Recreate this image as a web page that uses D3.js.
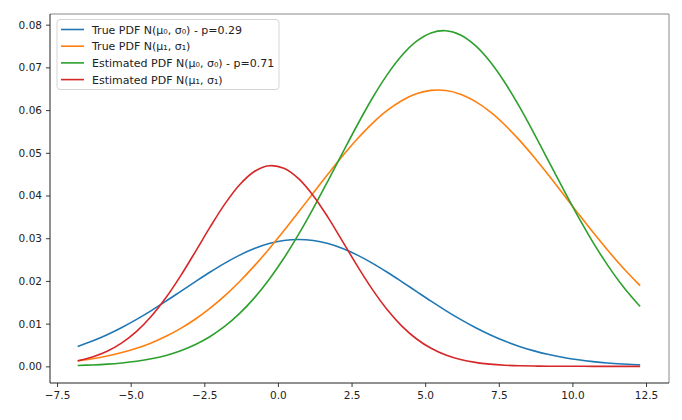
<!DOCTYPE html>
<html>
<head>
<meta charset="utf-8">
<script src="https://cdn.jsdelivr.net/npm/d3@7"></script>
<style>
  body { margin: 0; background: white; }
  text { font-family: "DejaVu Sans", sans-serif; }
</style>
</head>
<body>
<script>
// values
let xs = [-6.8, -6.3, -5.8, -5.3, -4.8, -4.3, -3.8, -3.3, -2.8, -2.3, -1.8, -1.3, -0.8, -0.3,
          0.2, 0.7, 1.2, 1.7, 2.2, 2.7, 3.2, 3.7, 4.2, 4.7, 5.2, 5.7, 6.2, 6.7, 7.2, 7.7,
          8.2, 8.7, 9.2, 9.7, 10.2, 10.7, 11.2, 11.7, 12.2, 12.3];

let truePdf0 = [0.00467, 0.00593, 0.00741, 0.00910, 0.01099, 0.01306, 0.01526, 0.01755, 0.01985, 0.02209,
                0.02418, 0.02604, 0.02758, 0.02874, 0.02946, 0.02970, 0.02946, 0.02874, 0.02758, 0.02604,
                0.02418, 0.02209, 0.01985, 0.01755, 0.01526, 0.01306, 0.01099, 0.00910, 0.00741, 0.00593,
                0.00467, 0.00362, 0.00276, 0.00207, 0.00153, 0.00111, 0.00079, 0.00056, 0.00038, 0.00036];

let truePdf1 = [0.00131, 0.00179, 0.00242, 0.00322, 0.00423, 0.00549, 0.00703, 0.00888, 0.01108, 0.01364,
                0.01657, 0.01988, 0.02353, 0.02750, 0.03172, 0.03612, 0.04059, 0.04502, 0.04930, 0.05328,
                0.05683, 0.05985, 0.06220, 0.06381, 0.06461, 0.06458, 0.06371, 0.06203, 0.05963, 0.05657,
                0.05297, 0.04897, 0.04468, 0.04023, 0.03576, 0.03137, 0.02717, 0.02322, 0.01960, 0.01891];

let estPdf0 = [0.00021, 0.00033, 0.00051, 0.00079, 0.00119, 0.00176, 0.00256, 0.00365, 0.00510, 0.00699,
               0.00939, 0.01239, 0.01603, 0.02033, 0.02530, 0.03089, 0.03699, 0.04345, 0.05005, 0.05657,
               0.06271, 0.06818, 0.07272, 0.07608, 0.07807, 0.07858, 0.07759, 0.07514, 0.07138, 0.06652,
               0.06080, 0.05451, 0.04794, 0.04136, 0.03499, 0.02904, 0.02365, 0.01888, 0.01479, 0.01405];

let estPdf1 = [0.00128, 0.00217, 0.00352, 0.00548, 0.00818, 0.01172, 0.01610, 0.02124, 0.02688, 0.03264,
               0.03804, 0.04253, 0.04562, 0.04696, 0.04638, 0.04396, 0.03997, 0.03488, 0.02920, 0.02346,
               0.01808, 0.01337, 0.00949, 0.00646, 0.00422, 0.00265, 0.00159, 0.00092, 0.00051, 0.00027,
               0.00014, 0.00007, 0.00003, 0.00001, 0.00001, 0.0, 0.0, 0.0, 0.0, 0.0];

let seriesNames = ["True PDF N(μ₀, σ₀) - p=0.29", "True PDF N(μ₁, σ₁)",
                   "Estimated PDF N(μ₀, σ₀) - p=0.71", "Estimated PDF N(μ₁, σ₁)"];
let seriesColors = ["#1f77b4", "#ff7f0e", "#2ca02c", "#d62728"];
let xTicks = [-7.5, -5.0, -2.5, 0.0, 2.5, 5.0, 7.5, 10.0, 12.5];
let yTicks = [0.00, 0.01, 0.02, 0.03, 0.04, 0.05, 0.06, 0.07, 0.08];

let W = 682, H = 420;
let pLeft = 50, pRight = 669, pTop = 14, pBottom = 383;

let svg = d3.select('body')
    .append('svg')
        .attr("width", W)
        .attr("height", H);

let x = d3.scaleLinear().domain([-7.74, 13.28]).range([pLeft, pRight]);
let y = d3.scaleLinear().domain([-0.0039, 0.0825]).range([pBottom, pTop]);

function fmtX(v) { return d3.format(".1f")(v).replace("-", "\u2212"); }

// axes
let xAxis = svg.append('g')
    .attr("transform", "translate(0," + pBottom + ")")
    .call(d3.axisBottom(x).tickValues(xTicks).tickFormat(fmtX).tickSize(4).tickPadding(5));
let yAxis = svg.append('g')
    .attr("transform", "translate(" + pLeft + ",0)")
    .call(d3.axisLeft(y).tickValues(yTicks).tickFormat(d3.format(".2f")).tickSize(4).tickPadding(4));

[xAxis, yAxis].forEach(function(a) {
    a.selectAll("text").attr("font-size", 10.5).attr("fill", "#222")
        .attr("font-family", "DejaVu Sans, sans-serif");
    a.selectAll("line").attr("stroke", "#222").attr("stroke-width", 0.9);
    a.select(".domain").remove();
});

// curves
let series = [truePdf0, truePdf1, estPdf0, estPdf1];
let line = d3.line()
    .x(function(d, i) { return x(xs[i]); })
    .y(function(d) { return y(d); })
    .curve(d3.curveCatmullRom.alpha(0.5));

series.forEach(function(s, i) {
    svg.append('path')
        .attr("d", line(s))
        .attr("fill", "none")
        .attr("stroke", seriesColors[i])
        .attr("stroke-width", 1.6);
});

// frame
svg.append('line').attr("x1", pLeft).attr("x2", pRight).attr("y1", pTop).attr("y2", pTop)
    .attr("stroke", "#888").attr("stroke-width", 1);
svg.append('line').attr("x1", pRight).attr("x2", pRight).attr("y1", pTop).attr("y2", pBottom)
    .attr("stroke", "#888").attr("stroke-width", 1);
svg.append('line').attr("x1", pLeft).attr("x2", pLeft).attr("y1", pTop).attr("y2", pBottom)
    .attr("stroke", "#222").attr("stroke-width", 1);
svg.append('line').attr("x1", pLeft).attr("x2", pRight).attr("y1", pBottom).attr("y2", pBottom)
    .attr("stroke", "#222").attr("stroke-width", 1);

// legend
let leg = svg.append('g').attr("transform", "translate(57,19.5)");
leg.append('rect')
    .attr("width", 222).attr("height", 70).attr("rx", 3)
    .attr("fill", "white").attr("fill-opacity", 0.85)
    .attr("stroke", "#d5d5d5").attr("stroke-width", 1);
seriesNames.forEach(function(name, i) {
    let ly = 10 + i * 16.7;
    leg.append('line')
        .attr("x1", 4).attr("x2", 27).attr("y1", ly).attr("y2", ly)
        .attr("stroke", seriesColors[i]).attr("stroke-width", 1.6);
    leg.append('text')
        .attr("x", 35).attr("y", ly + 4)
        .attr("font-size", 11).attr("fill", "#222")
        .text(name);
});
</script>
</body>
</html>
